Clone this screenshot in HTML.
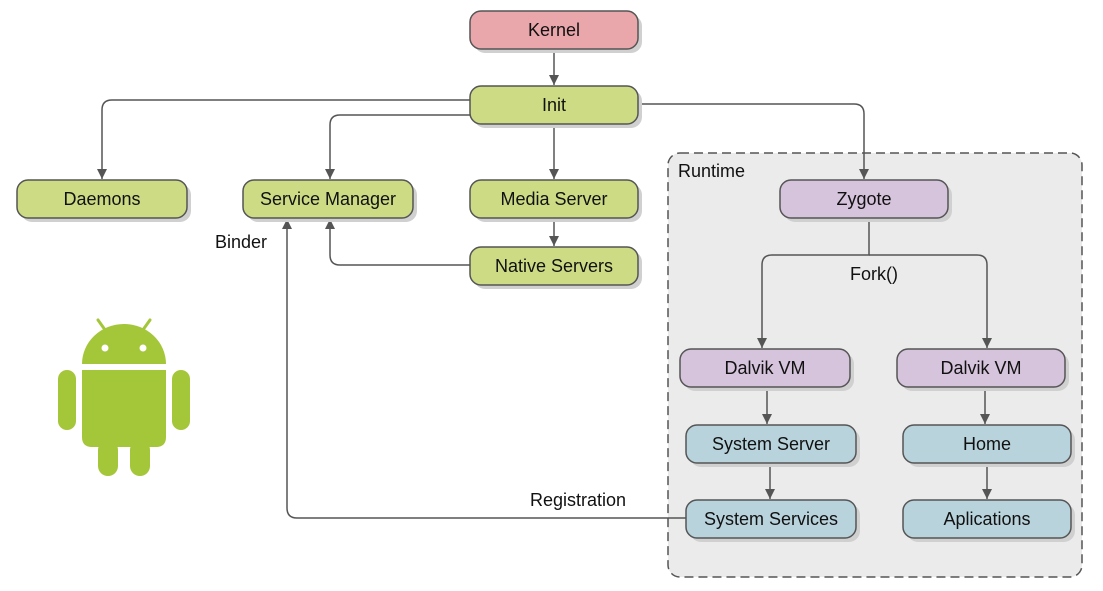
<!DOCTYPE html>
<html><head><style>body{margin:0;background:#fff}svg{display:block}</style></head><body>
<svg width="1103" height="591" xmlns="http://www.w3.org/2000/svg" font-family="Liberation Sans, sans-serif" font-size="18">
<defs>
<marker id="a" markerWidth="10" markerHeight="10" refX="10" refY="5" orient="auto" viewBox="0 0 10 10" markerUnits="userSpaceOnUse"><path d="M0,0 L10,5 L0,10z" fill="#555"/></marker>
</defs>
<rect x="668" y="153" width="414" height="424" rx="12" fill="#ebebeb" stroke="#555" stroke-width="1.5" stroke-dasharray="9,5"/>
<text x="678" y="177" fill="#111">Runtime</text>
<g fill="none" stroke="#555" stroke-width="1.5">
<path d="M554 48V85" marker-end="url(#a)"/>
<path d="M470 100H112Q102 100 102 110V179" marker-end="url(#a)"/>
<path d="M470 115H340Q330 115 330 125V179" marker-end="url(#a)"/>
<path d="M554 124V179" marker-end="url(#a)"/>
<path d="M638 104H854Q864 104 864 114V179" marker-end="url(#a)"/>
<path d="M554 218V246" marker-end="url(#a)"/>
<path d="M470 265H340Q330 265 330 255V219" marker-end="url(#a)"/>
<path d="M869 218V255H772Q762 255 762 265V348" marker-end="url(#a)"/>
<path d="M869 255H977Q987 255 987 265V348" marker-end="url(#a)"/>
<path d="M767 387V424" marker-end="url(#a)"/>
<path d="M770 463V499" marker-end="url(#a)"/>
<path d="M985 387V424" marker-end="url(#a)"/>
<path d="M987 463V499" marker-end="url(#a)"/>
<path d="M686 518H297Q287 518 287 508V219" marker-end="url(#a)"/>
</g>
<text x="874" y="280" text-anchor="middle" fill="#111">Fork()</text>
<text x="578" y="506" text-anchor="middle" fill="#111">Registration</text>
<text x="215" y="248" fill="#111">Binder</text>
<g stroke="#555" stroke-width="1.5">
<g fill="#d0d0d0" stroke="none">
<rect x="474" y="15" width="168" height="38" rx="11"/><rect x="474" y="90" width="168" height="38" rx="11"/>
<rect x="21" y="184" width="170" height="38" rx="11"/><rect x="247" y="184" width="170" height="38" rx="11"/>
<rect x="474" y="184" width="168" height="38" rx="11"/><rect x="474" y="251" width="168" height="38" rx="11"/>
<rect x="784" y="184" width="168" height="38" rx="11"/><rect x="684" y="353" width="170" height="38" rx="11"/>
<rect x="901" y="353" width="168" height="38" rx="11"/><rect x="690" y="429" width="170" height="38" rx="11"/>
<rect x="907" y="429" width="168" height="38" rx="11"/><rect x="690" y="504" width="170" height="38" rx="11"/>
<rect x="907" y="504" width="168" height="38" rx="11"/>
</g>
<rect x="470" y="11" width="168" height="38" rx="11" fill="#eaa7ab"/>
<g fill="#cddc84">
<rect x="470" y="86" width="168" height="38" rx="11"/><rect x="17" y="180" width="170" height="38" rx="11"/>
<rect x="243" y="180" width="170" height="38" rx="11"/><rect x="470" y="180" width="168" height="38" rx="11"/>
<rect x="470" y="247" width="168" height="38" rx="11"/>
</g>
<g fill="#d6c3dc">
<rect x="780" y="180" width="168" height="38" rx="11"/><rect x="680" y="349" width="170" height="38" rx="11"/>
<rect x="897" y="349" width="168" height="38" rx="11"/>
</g>
<g fill="#b9d3dc">
<rect x="686" y="425" width="170" height="38" rx="11"/><rect x="903" y="425" width="168" height="38" rx="11"/>
<rect x="686" y="500" width="170" height="38" rx="11"/><rect x="903" y="500" width="168" height="38" rx="11"/>
</g>
</g>
<g text-anchor="middle" fill="#111">
<text x="554" y="36">Kernel</text><text x="554" y="111">Init</text>
<text x="102" y="205">Daemons</text><text x="328" y="205">Service Manager</text>
<text x="554" y="205">Media Server</text><text x="554" y="272">Native Servers</text>
<text x="864" y="205">Zygote</text><text x="765" y="374">Dalvik VM</text>
<text x="981" y="374">Dalvik VM</text><text x="771" y="450">System Server</text>
<text x="987" y="450">Home</text><text x="771" y="525">System Services</text>
<text x="987" y="525">Aplications</text>
</g>
<g fill="#a4c639">
<path d="M82 364A42 40 0 0 1 166 364Z"/>
<line x1="98" y1="320" x2="108" y2="334" stroke="#a4c639" stroke-width="3" stroke-linecap="round"/>
<line x1="150" y1="320" x2="140" y2="334" stroke="#a4c639" stroke-width="3" stroke-linecap="round"/>
<path d="M82 370H166V437Q166 447 156 447H92Q82 447 82 437Z"/>
<rect x="58" y="370" width="18" height="60" rx="9"/><rect x="172" y="370" width="18" height="60" rx="9"/>
<rect x="98" y="440" width="20" height="36" rx="10"/><rect x="130" y="440" width="20" height="36" rx="10"/>
</g>
<circle cx="105" cy="348" r="3.5" fill="#fff"/><circle cx="143" cy="348" r="3.5" fill="#fff"/>
</svg>
</body></html>
